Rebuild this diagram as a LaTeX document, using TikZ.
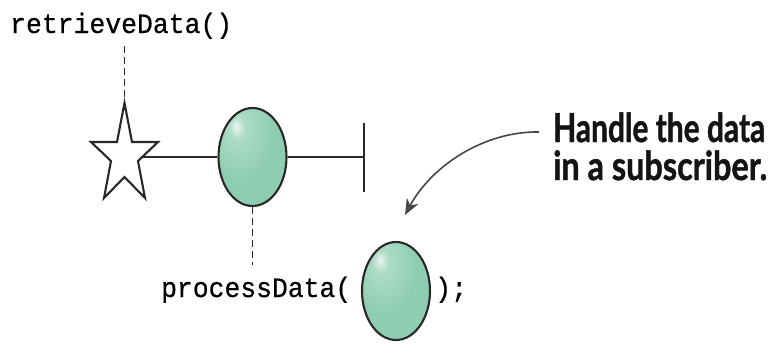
\documentclass[tikz,border=0pt]{standalone}
\usepackage{fontspec}
\usepackage{graphicx}
\usetikzlibrary{shapes.geometric,arrows.meta}
\setmainfont{Lato}
\newfontfamily\codefont{Liberation Mono}[FakeBold=0.6]
\newfontfamily\notefont{Lato Bold}[FakeBold=1.2]

\definecolor{gBase}{RGB}{142,205,178}
\definecolor{gMid}{RGB}{172,219,198}
\definecolor{gHi}{RGB}{234,246,240}
\definecolor{inkline}{RGB}{40,40,40}

\pgfdeclareradialshading{greenball}{\pgfpoint{-12bp}{16bp}}{%
  color(0bp)=(gHi); color(6bp)=(gMid); color(24bp)=(gBase); color(90bp)=(gBase)}

\tikzset{
  ball/.style={ellipse, draw=inkline, line width=2.1pt, shading=greenball,
    minimum width=68pt, minimum height=98pt, inner sep=0pt},
  wire/.style={draw=inkline, line width=2.1pt},
  guide/.style={draw=inkline, line width=1.7pt, dash pattern=on 7pt off 4pt},
  code/.style={inner sep=0pt, font=\codefont\fontsize{28}{28}\selectfont},
  note/.style={inner sep=0pt, anchor=base west, font=\notefont\fontsize{40}{40}\selectfont, text=black!92},
  pointer/.style={draw=black!72, line width=1.6pt, -{Stealth[length=16pt,width=13pt]}}
}

\begin{document}
\begin{tikzpicture}[x=1pt,y=-1pt]
\useasboundingbox (0,0) rectangle (769,343);

% source call
\node[code, anchor=base west] (src) at (10,33) {\resizebox{222pt}{\height}{retrieveData()}};

% observable timeline: star, emitted item, completion bar
\draw[wire, fill=white, line join=miter]
  (124.5,103) -- (132,142) -- (158,142) -- (138,161) -- (145,198) -- (124.5,177)
  -- (104,198) -- (111,161) -- (91,142) -- (117,142) -- cycle;
\coordinate (startop) at (124.5,104);
\coordinate (starright) at (141,157);
\node[ball] (item) at (252.5,157) {};
\coordinate (endmid) at (364,157);
\coordinate (endtop) at (364,123);
\coordinate (endbot) at (364,192);
\draw[wire] (starright) -- (item.west);
\draw[wire] (item.east) -- (endmid);
\draw[wire] (endtop) -- (endbot);

% dashed guides
\coordinate (srcfoot) at (124.5,46);
\draw[guide] (srcfoot) -- (startop);

% subscriber call
\node[code, anchor=base west] (proc) at (161,297) {\resizebox{190pt}{\height}{processData(}};
\node[ball] (arg) at (396,291) {};
\node[code, anchor=base west] (close) at (435,297) {\resizebox{32pt}{\height}{);}};
\coordinate (procfoot) at (252.5,265);
\draw[guide] (item.south) -- (procfoot);

% annotation
\node[note] (l1) at (553,142) {\resizebox{212pt}{\height}{Handle the data}};
\node[note] (l2) at (553,180) {\resizebox{214pt}{\height}{in a subscriber.}};
\coordinate (notestart) at (539,132);
\coordinate (notetip) at (405,215);
\draw[pointer] (notestart) .. controls (485,131) and (432,165) .. (notetip);
\end{tikzpicture}
\end{document}
